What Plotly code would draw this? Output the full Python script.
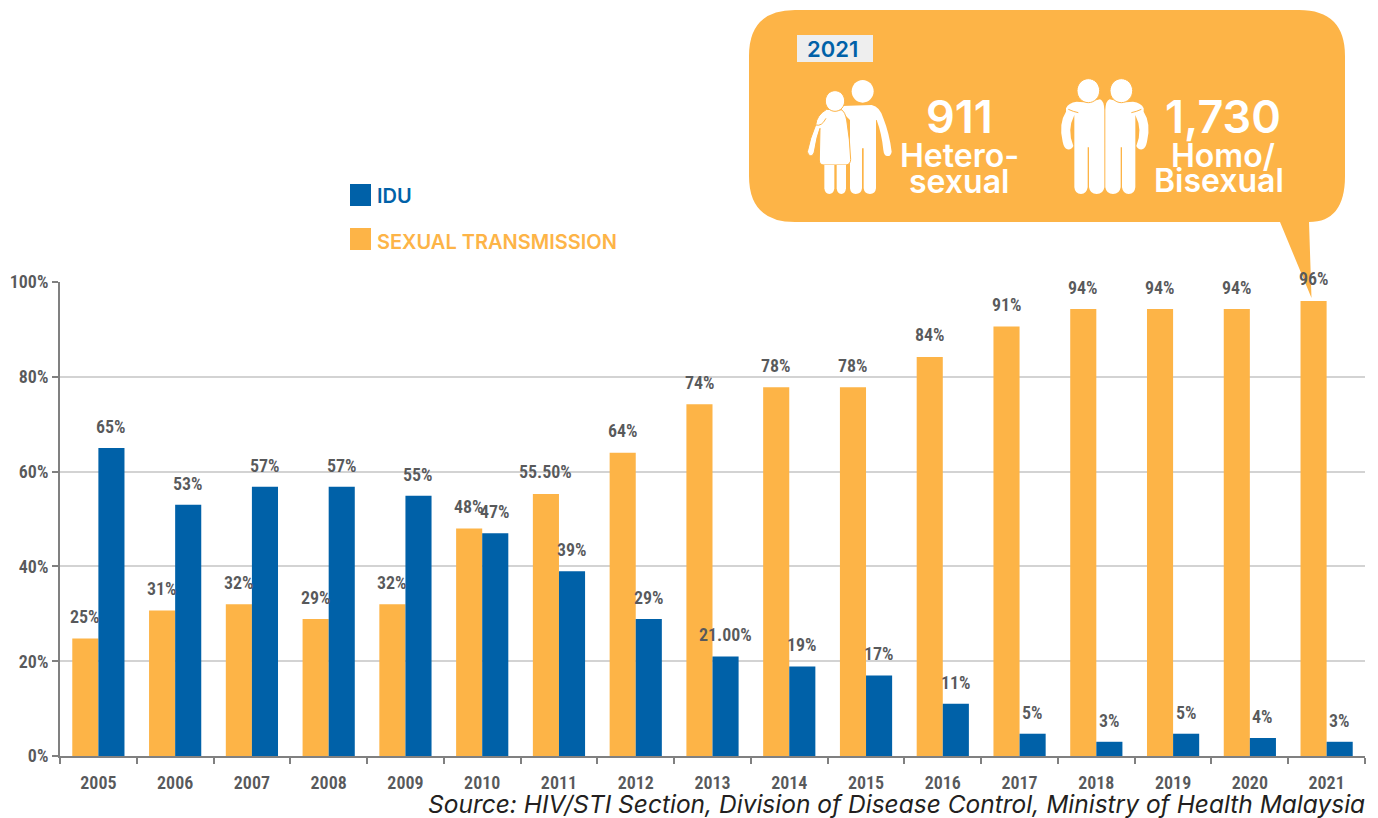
import plotly.graph_objects as go

years = ["2005","2006","2007","2008","2009","2010","2011","2012","2013","2014","2015","2016","2017","2018","2019","2020","2021"]
idu = [65,53,56.8,56.8,54.9,47,39,28.9,21,18.9,17,11,4.7,3,4.7,3.8,3]
sexual = [24.8,30.7,32,28.9,32,48,55.3,64,74.2,77.8,77.8,84.2,90.6,94.3,94.3,94.3,96]
idu_labels = ["65%","53%","57%","57%","55%","47%","39%","29%","21.00%","19%","17%","11%","5%","3%","5%","4%","3%"]
sexual_labels = ["25%","31%","32%","29%","32%","48%","55.50%","64%","74%","78%","78%","84%","91%","94%","94%","94%","96%"]
y_ticks = [0,20,40,60,80,100]
y_tick_labels = ["0%","20%","40%","60%","80%","100%"]

ORANGE = "#FDB447"
BLUE = "#0061A8"
GREY = "#58595B"
NARROW = "'Roboto Condensed', 'Liberation Sans Narrow', 'DejaVu Sans Condensed', sans-serif"
WIDE = "Inter"
PAGE_W, PAGE_H = 1378, 818
OFFSET = 8  # the page's own body margin
L, R, T, B = 60, 1365, 282, 756


def px(x):
    return (x - L) / (R - L)


def py(y):
    return (B - y) / (B - T)


def crop_path(d, ox, oy):
    """Icon outline drawn in 3x crop coordinates -> paper coordinates."""
    out, is_x = [], True
    for tok in d.split():
        if tok.isalpha():
            out.append(tok)
            is_x = True
        else:
            v = float(tok)
            out.append(f"{px(ox + v / 3):.5f}" if is_x else f"{py(oy + v / 3):.5f}")
            is_x = not is_x
    return " ".join(out)


def mirror(d, c):
    out, is_x = [], True
    for tok in d.split():
        if tok.isalpha():
            out.append(tok)
            is_x = True
        else:
            out.append(str(2 * c - float(tok)) if is_x else tok)
            is_x = not is_x
    return " ".join(out)


def ellipse(cx, cy, rx, ry):
    return (f"M {cx-rx} {cy} C {cx-rx} {cy-ry*0.55} {cx-rx*0.55} {cy-ry} {cx} {cy-ry} "
            f"C {cx+rx*0.55} {cy-ry} {cx+rx} {cy-ry*0.55} {cx+rx} {cy} "
            f"C {cx+rx} {cy+ry*0.55} {cx+rx*0.55} {cy+ry} {cx} {cy+ry} "
            f"C {cx-rx*0.55} {cy+ry} {cx-rx} {cy+ry*0.55} {cx-rx} {cy} Z")


def icon(d, ox, oy, outline=False):
    return dict(type="path", xref="paper", yref="paper", path=crop_path(d, ox, oy), fillcolor="white",
                line=dict(color=ORANGE if outline else "white", width=1 if outline else 0), layer="above")


def seam(d, ox, oy):
    return dict(type="path", xref="paper", yref="paper", path=crop_path(d, ox, oy),
                line=dict(color=ORANGE, width=1), layer="above")


def rect(x0, y0, x1, y1, color):
    return dict(type="rect", xref="paper", yref="paper", x0=px(x0), x1=px(x1), y0=py(y0), y1=py(y1),
                fillcolor=color, line=dict(width=0), layer="above")


def text(x, y, s, size, color="white", weight=600, family=WIDE, anchor="center", italic=False):
    return dict(xref="paper", yref="paper", x=px(x), y=py(y), text=s, showarrow=False, xanchor=anchor,
                yanchor="middle", font=dict(family=family, size=size, color=color, weight=weight,
                                            style="italic" if italic else "normal"))


fig = go.Figure()
fig.add_bar(x=years, y=sexual, name="SEXUAL TRANSMISSION", marker=dict(color=ORANGE, line=dict(width=0)))
fig.add_bar(x=years, y=idu, name="IDU", marker=dict(color=BLUE, line=dict(width=0)))

# callout bubble
x0, x1, y0, y1, r = 749, 1345, 10, 222, 46
bubble = (f"M {px(x0+r)} {py(y0)} L {px(x1-r)} {py(y0)} Q {px(x1)} {py(y0)} {px(x1)} {py(y0+r)} "
          f"L {px(x1)} {py(y1-r)} Q {px(x1)} {py(y1)} {px(x1-36)} {py(y1)} "
          f"L {px(1311.5)} {py(298)} L {px(1280)} {py(y1)} "
          f"L {px(x0+r)} {py(y1)} Q {px(x0)} {py(y1)} {px(x0)} {py(y1-r)} "
          f"L {px(x0)} {py(y0+r)} Q {px(x0)} {py(y0)} {px(x0+r)} {py(y0)} Z")
shapes = [
    dict(type="path", xref="paper", yref="paper", path=bubble, fillcolor=ORANGE, line=dict(width=0), layer="above"),
    rect(797, 35, 873, 62, "#EEEEEE"),
    rect(350, 184, 371, 206, BLUE),
    rect(350, 228, 371, 250, ORANGE),
]

# heterosexual couple
CX, CY = 800, 70
man = ("M 125 108 L 215 105 Q 240 110 250 145 Q 268 190 275 245 Q 272 260 262 258 Q 252 258 250 240 "
       "Q 245 190 230 150 L 228 150 L 228 355 Q 226 372 210 372 Q 193 372 191 355 L 191 235 L 186 235 "
       "L 186 355 Q 184 372 167 372 Q 152 372 150 355 L 150 150 L 125 125 Z")
woman = ("M 80 118 Q 50 135 47 165 Q 30 205 22 245 Q 25 258 33 258 Q 42 255 44 240 Q 50 200 60 175 L 58 270 "
         "Q 58 285 72 285 L 138 285 Q 152 283 152 268 Q 150 210 140 150 Q 135 125 125 120 Q 100 120 80 118 Z")
shapes += [
    icon(man, CX, CY), icon(ellipse(188, 64, 33, 34), CX, CY),
    icon(woman, CX, CY, True),
    icon("M 73 285 L 103 285 L 103 355 Q 101 372 88 372 Q 75 372 73 355 Z", CX, CY),
    icon("M 110 285 L 138 285 L 138 355 Q 136 372 124 372 Q 112 372 110 355 Z", CX, CY),
    seam("M 48 165 Q 65 170 78 145", CX, CY),
    icon(ellipse(105, 93, 29, 31), CX, CY, True),
]

# homosexual / bisexual pair
PX, PY = 1050, 70
person = ("M 48 115 Q 55 98 80 95 Q 115 100 150 88 Q 162 92 163 120 L 163 352 Q 160 372 140 372 Q 120 372 117 352 "
          "L 117 232 L 113 232 L 113 352 Q 110 372 93 372 Q 75 372 73 352 L 73 135 Q 50 180 70 228 "
          "Q 65 240 52 238 Q 42 235 38 215 Q 25 160 48 125 Z")
hand = "M 55 118 Q 70 125 85 128"
shapes += [
    icon(person, PX, PY), icon(mirror(person, 164.5), PX, PY),
    seam(hand, PX, PY), seam(mirror(hand, 164.5), PX, PY),
    icon(ellipse(115, 62, 34, 36), PX, PY, True), icon(ellipse(214, 62, 34, 36), PX, PY, True),
]

annotations = [
    text(832, 49, "2021", 22, BLUE),
    text(959, 116, "911", 45),
    text(959, 155, "Hetero-", 32),
    text(959, 181, "sexual", 32),
    text(1223, 116, "1,730", 45),
    text(1223, 155, "Homo/", 32),
    text(1219, 180, "Bisexual", 32),
    text(375, 196, "IDU", 20, BLUE, anchor="left"),
    text(375, 242, "SEXUAL TRANSMISSION", 20, ORANGE, anchor="left"),
    text(1367, 804, "Source: HIV/STI Section, Division of Disease Control, Ministry of Health Malaysia", 24.5,
         "#231F20", 400, anchor="right", italic=True),
]
for i, (v, s) in enumerate(zip(sexual, sexual_labels)):
    annotations.append(dict(x=i, y=v, xref="x", yref="y", text=s, showarrow=False, xshift=-13, yshift=22,
                            font=dict(family=NARROW, size=18, color=GREY, weight=600)))
for i, (v, s) in enumerate(zip(idu, idu_labels)):
    annotations.append(dict(x=i, y=v, xref="x", yref="y", text=s, showarrow=False, xshift=13, yshift=21.5,
                            font=dict(family=NARROW, size=18, color=GREY, weight=600)))

fig.update_layout(
    width=PAGE_W - OFFSET, height=PAGE_H - OFFSET, autosize=False, showlegend=False,
    barmode="group", bargap=0.32, bargroupgap=0,
    paper_bgcolor="white", plot_bgcolor="white",
    margin=dict(l=L - OFFSET, r=PAGE_W - R, t=T - OFFSET, b=PAGE_H - B, autoexpand=False),
    shapes=shapes, annotations=annotations,
    font=dict(family=NARROW, color=GREY),
    xaxis=dict(type="category", categoryorder="array", categoryarray=years, range=[-0.5, 16.5], automargin=False,
               tickson="boundaries", ticks="outside", ticklen=6, tickcolor="#808080", tickwidth=1.5, tickangle=0,
               ticklabelstandoff=9, showline=True, linecolor="#808080", linewidth=2, showgrid=False,
               tickfont=dict(family=NARROW, size=18, color=GREY, weight=600), fixedrange=True),
    yaxis=dict(range=[0, 100], tickvals=y_ticks, ticktext=y_tick_labels, ticks="outside", ticklen=6, automargin=False,
               tickcolor="#808080", tickwidth=1.5, showline=True, linecolor="#808080", linewidth=2,
               showgrid=True, gridcolor="#D3D3D3", gridwidth=2, zeroline=False,
               tickfont=dict(family=NARROW, size=18, color=GREY, weight=600), fixedrange=True),
)
fig.write_html("out.html", config=dict(displayModeBar=False))
